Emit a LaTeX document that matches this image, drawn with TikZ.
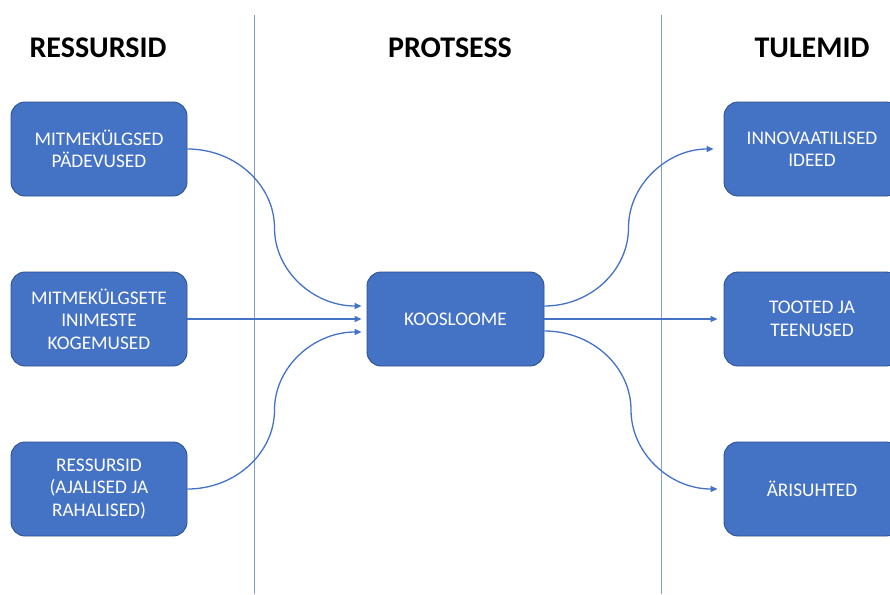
\documentclass[tikz,border=0pt]{standalone}
\usepackage{fontspec}
\setmainfont{Carlito}
\usetikzlibrary{arrows.meta,calc}
\definecolor{boxfill}{HTML}{4472C4}
\definecolor{boxline}{HTML}{2F528F}
\definecolor{divider}{HTML}{7F9FD6}
\tikzset{
  card/.style={draw=boxline, line width=0.9pt, fill=boxfill, rounded corners=14pt,
    minimum width=176pt, minimum height=94pt, inner sep=0pt,
    text=white, align=center, font=\fontsize{19.3}{22.5}\selectfont},
  heading/.style={font=\bfseries\fontsize{30}{34}\selectfont, text=black},
  flow/.style={draw=boxfill, line width=1.3pt, -{Triangle[length=7pt,width=6pt]}},
  divline/.style={draw=divider, line width=0.9pt}
}
\begin{document}
\begin{tikzpicture}[x=1pt,y=-1pt]
\useasboundingbox (0,0) rectangle (890,594);
\clip (0,0) rectangle (890,594);
\fill[white] (0,0) rectangle (890,594);

% column dividers
\coordinate (d1t) at (254,15); \coordinate (d1b) at (254,594);
\coordinate (d2t) at (661,15); \coordinate (d2b) at (661,594);
\draw[divline] (d1t) -- (d1b);
\draw[divline] (d2t) -- (d2b);

% column headings
\node[heading] (h1) at (98,48) {RESSURSID};
\node[heading] (h2) at (450,48) {PROTSESS};
\node[heading] (h3) at (812,48) {TULEMID};

% resources
\node[card] (m1) at (99,149) {MITMEKÜLGSED\\PÄDEVUSED};
\node[card] (m2) at (99,319) {MITMEKÜLGSETE\\INIMESTE\\KOGEMUSED};
\node[card] (m3) at (99,489) {RESSURSID\\(AJALISED JA\\RAHALISED)};

% process
\node[card, minimum width=177pt] (k) at (455.5,319) {KOOSLOOME};

% results
\node[card] (t1) at (812,149) {INNOVAATILISED\\IDEED};
\node[card] (t2) at (812,319) {TOOTED JA\\TEENUSED};
\node[card] (t3) at (812,489) {ÄRISUHTED};

% turning points of the curved connectors
\coordinate (c1) at (274.5,228);
\coordinate (c3) at (274.5,410);
\coordinate (c4) at (628.5,227.5);
\coordinate (c6) at (631,410);

% inputs to the process
\draw[flow] (m1.east) .. controls +(48,0) and +(0,-43) .. (c1)
  .. controls +(0,43) and +(-48,0) .. ($(k.west)+(-5,-13)$);
\draw[flow] (m2.east) -- ($(k.west)+(-5,0)$);
\draw[flow] (m3.east) .. controls +(48,0) and +(0,43) .. (c3)
  .. controls +(0,-43) and +(-48,0) .. ($(k.west)+(-5,13)$);

% outputs of the process
\draw[flow] ($(k.east)+(0,-13)$) .. controls +(46,0) and +(0,43) .. (c4)
  .. controls +(0,-43) and +(-46,0) .. ($(t1.west)+(-10,0)$);
\draw[flow] ($(k.east)+(0,0)$) -- ($(t2.west)+(-6,0)$);
\draw[flow] ($(k.east)+(0,12)$) .. controls +(48,0) and +(0,-43) .. (c6)
  .. controls +(0,43) and +(-48,0) .. ($(t3.west)+(-6,0)$);
\end{tikzpicture}
\end{document}
